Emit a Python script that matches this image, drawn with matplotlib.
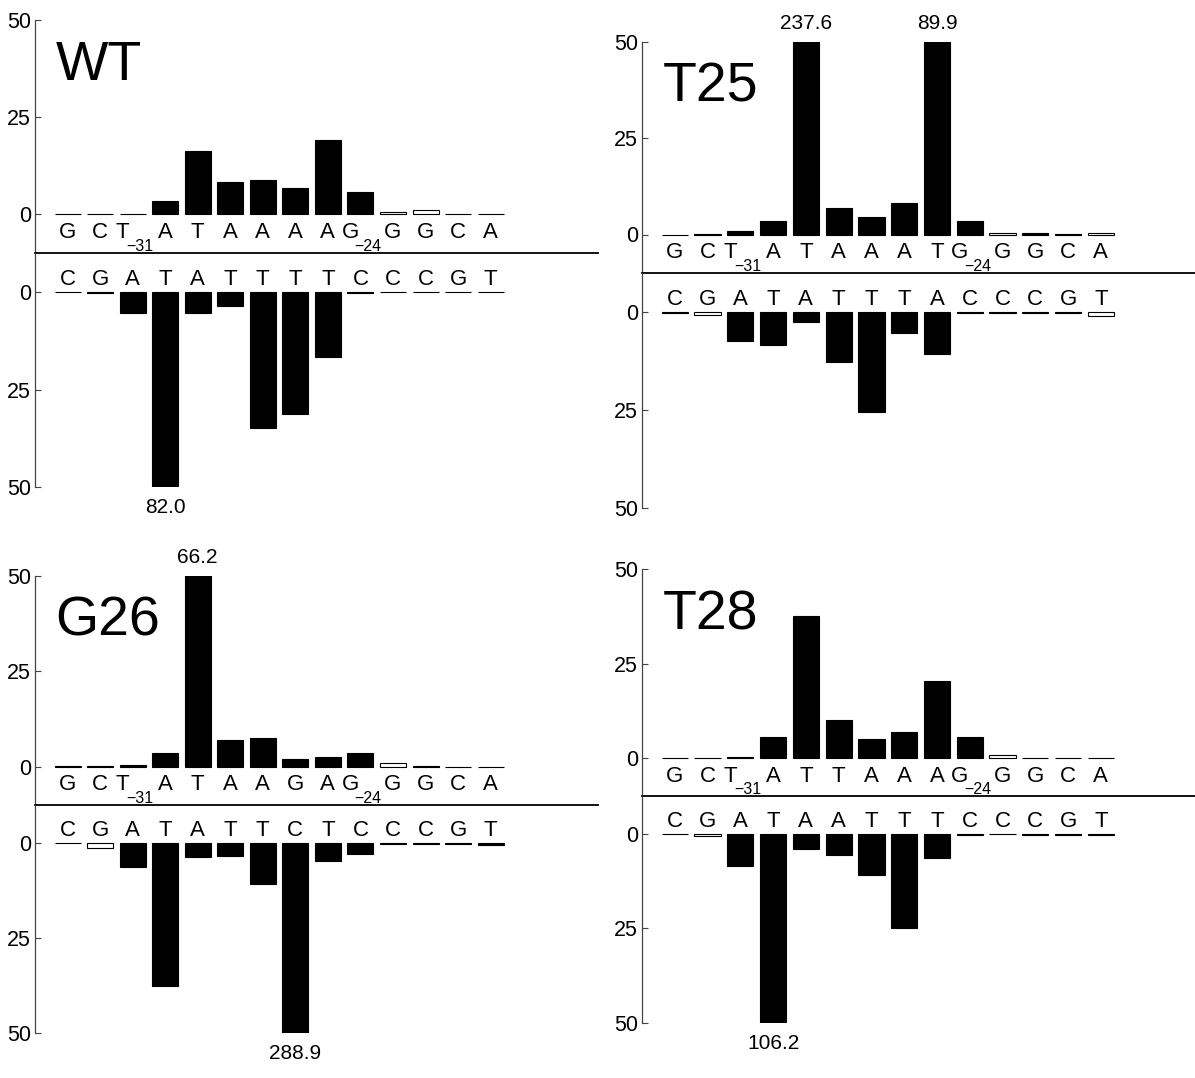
import matplotlib
matplotlib.use('Agg')
import matplotlib.pyplot as plt

plt.rcParams['font.family'] = ['Liberation Sans', 'DejaVu Sans']

# ---------------- data ----------------
positions = list(range(1, 15))
subscripts = {3: '\u221231', 10: '\u221224'}   # position -> subscript on the top strand
tick_values = [0, 25, 50]

wt_top_seq = list('GCTATAAAAGGGCA')
wt_bot_seq = list('CGATATTTTCCCGT')
wt_top = [0.0, 0.1, 0.1, 3.4, 16.2, 8.3, 8.9, 6.8, 19.1, 5.6, 0.6, 0.95, 0.05, 0.1]
wt_bot = [0.1, 0.2, 5.5, 82.0, 5.3, 3.5, 34.8, 31.2, 16.6, 0.2, 0.1, 0.1, 0.1, 0.1]
wt_top_open = [11, 12]
wt_bot_open = []

t25_top_seq = list('GCTATAAATGGGCA')
t25_bot_seq = list('CGATATTTACCCGT')
t25_top = [0.0, 0.05, 0.9, 3.4, 237.6, 7.0, 4.5, 8.1, 89.9, 3.4, 0.5, 0.3, 0.05, 0.5]
t25_bot = [0.1, 0.7, 7.3, 8.5, 2.4, 12.6, 25.6, 5.2, 10.75, 0.1, 0.1, 0.1, 0.1, 0.9]
t25_top_open = [11, 14]
t25_bot_open = [2, 14]

g26_top_seq = list('GCTATAAGAGGGCA')
g26_bot_seq = list('CGATATTCTCCCGT')
g26_top = [0.25, 0.1, 0.5, 3.7, 66.2, 7.0, 7.5, 2.1, 2.6, 3.7, 0.9, 0.1, 0.0, 0.0]
g26_bot = [0.1, 1.2, 6.3, 37.5, 3.8, 3.3, 10.9, 288.9, 4.8, 3.0, 0.2, 0.2, 0.2, 0.5]
g26_top_open = [11]
g26_bot_open = [2]

t28_top_seq = list('GCTATTAAAGGGCA')
t28_bot_seq = list('CGATAATTTCCCGT')
t28_top = [0.0, 0.0, 0.4, 5.6, 37.7, 10.0, 5.1, 6.8, 20.5, 5.6, 0.9, 0.0, 0.1, 0.1]
t28_bot = [0.1, 0.5, 8.6, 106.2, 4.0, 5.5, 11.0, 24.8, 6.5, 0.3, 0.1, 0.2, 0.3, 0.2]
t28_top_open = [11]
t28_bot_open = [2]

# ---------------- layout ----------------
W, H = 1195, 1078
fig = plt.figure(figsize=(W / 100, H / 100), dpi=100)
CAP = 50
GAP = 10
SPINE_C = '#444444'


def px_axes(x0, y_top, y_bot, w):
    return fig.add_axes([x0 / W, 1 - y_bot / H, w / W, (y_bot - y_top) / H])


def put_letters(ax, seq, y, subs):
    for p, ch in zip(positions, seq):
        if p in subs:
            ax.annotate(ch, xy=(p, y), xytext=(-7.2, 0), textcoords='offset points',
                        ha='center', va='baseline', fontsize=16)
            ax.annotate(subs[p], xy=(p, y), xytext=(-4.3, -9.0), textcoords='offset points',
                        ha='left', va='baseline', fontsize=11.5)
        else:
            ax.text(p, y, ch, ha='center', va='baseline', fontsize=16)


def draw_panel(name, geom, top_seq, top_vals, top_open, bot_seq, bot_vals, bot_open):
    x0, ytop, ysep, ybot, w = geom
    ax_t = px_axes(x0, ytop, ysep, w)
    ax_b = px_axes(x0, ysep, ybot, w)
    for ax in (ax_t, ax_b):
        ax.set_xlim(0, 17.3)
        ax.patch.set_alpha(0)
        ax.spines['top'].set_visible(False)
        ax.spines['right'].set_visible(False)
        ax.spines['left'].set_color(SPINE_C)
        ax.spines['left'].set_linewidth(0.9)
        ax.set_xticks([])
        ax.set_yticks(tick_values)
        ax.set_yticklabels([str(t) for t in tick_values])
        ax.tick_params(axis='y', direction='in', length=4, width=0.8, color=SPINE_C,
                       labelsize=15.5, pad=3)
    ax_t.set_ylim(-GAP, CAP)
    ax_b.set_ylim(CAP, -GAP)
    ax_t.spines['bottom'].set_color('black')
    ax_t.spines['bottom'].set_linewidth(1.3)
    ax_b.spines['bottom'].set_visible(False)

    fc_t = ['white' if p in top_open else 'black' for p in positions]
    fc_b = ['white' if p in bot_open else 'black' for p in positions]
    ax_t.bar(positions, top_vals, width=0.8, color=fc_t, edgecolor='black', linewidth=0.8)
    ax_b.bar(positions, bot_vals, width=0.8, color=fc_b, edgecolor='black', linewidth=0.8)

    for p, v in zip(positions, top_vals):
        if v > CAP:
            ax_t.annotate(f'{v:.1f}', xy=(p, CAP), xytext=(0, 13), textcoords='offset points',
                          ha='center', va='center', fontsize=15, annotation_clip=False)
    for p, v in zip(positions, bot_vals):
        if v > CAP:
            ax_b.annotate(f'{v:.1f}', xy=(p, CAP), xytext=(0, -15), textcoords='offset points',
                          ha='center', va='center', fontsize=15, annotation_clip=False)

    put_letters(ax_t, top_seq, -6.2, subscripts)
    put_letters(ax_b, bot_seq, -1.8, {})

    ax_t.text(0.036, 1 - 60 / (ysep - ytop), name, transform=ax_t.transAxes,
              fontsize=40, ha='left', va='baseline')


draw_panel('WT', (35, 20, 253, 487, 563),
           wt_top_seq, wt_top, wt_top_open, wt_bot_seq, wt_bot, wt_bot_open)
draw_panel('T25', (642, 42, 273, 508, 567),
           t25_top_seq, t25_top, t25_top_open, t25_bot_seq, t25_bot, t25_bot_open)
draw_panel('G26', (35, 576, 805, 1033, 563),
           g26_top_seq, g26_top, g26_top_open, g26_bot_seq, g26_bot, g26_bot_open)
draw_panel('T28', (642, 569, 796, 1023, 567),
           t28_top_seq, t28_top, t28_top_open, t28_bot_seq, t28_bot, t28_bot_open)

fig.savefig('out.png', dpi=100, facecolor='white')
